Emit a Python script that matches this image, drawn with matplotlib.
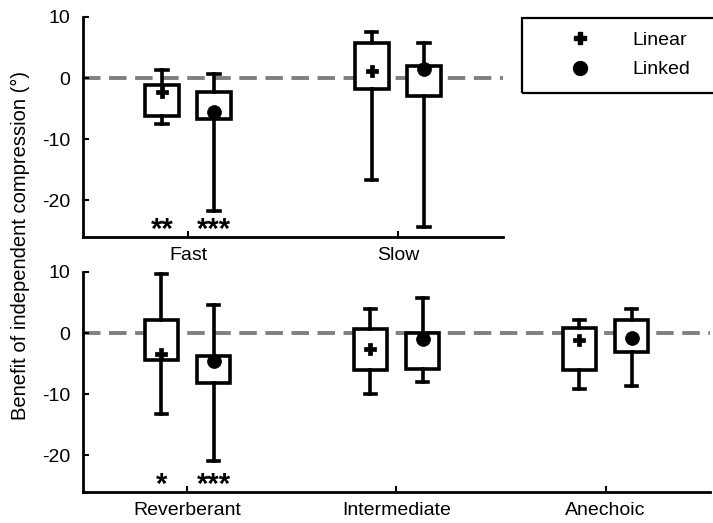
import matplotlib
matplotlib.use("Agg")
import matplotlib.pyplot as plt
from matplotlib.lines import Line2D
from matplotlib.patches import Rectangle

plt.rcParams['font.family'] = ['Liberation Sans', 'DejaVu Sans']

# data: [whisker low, q1, q3, whisker high, marker]
kat_atas = ["Fast", "Slow"]
lin_atas_lo = [-7.5, -16.7]
lin_atas_q1 = [-6.2, -1.8]
lin_atas_q3 = [-1.1, 5.8]
lin_atas_hi = [1.4, 7.6]
lin_atas_m = [-2.3, 1.2]
lnk_atas_lo = [-21.8, -24.4]
lnk_atas_q1 = [-6.7, -3.0]
lnk_atas_q3 = [-2.3, 2.0]
lnk_atas_hi = [0.7, 5.8]
lnk_atas_m = [-5.6, 1.5]
bintang_atas = [["**", "***"], ["", ""]]

kat_bawah = ["Reverberant", "Intermediate", "Anechoic"]
lin_bawah_lo = [-13.3, -10.0, -9.1]
lin_bawah_q1 = [-4.4, -6.0, -6.0]
lin_bawah_q3 = [2.1, 0.6, 0.8]
lin_bawah_hi = [9.6, 3.9, 2.1]
lin_bawah_m = [-3.5, -2.6, -1.2]
lnk_bawah_lo = [-20.9, -8.0, -8.7]
lnk_bawah_q1 = [-8.1, -5.8, -3.1]
lnk_bawah_q3 = [-3.7, 0.0, 2.1]
lnk_bawah_hi = [4.6, 5.8, 4.0]
lnk_bawah_m = [-4.6, -1.0, -0.8]
bintang_bawah = [["*", "***"], ["", ""], ["", ""]]

geser = 0.125
lebar = 0.16
fs = 14


def buat_stats(lo, q1, q3, hi, m):
    hasil = []
    for i in range(len(lo)):
        hasil.append(dict(whislo=lo[i], q1=q1[i], med=m[i], q3=q3[i],
                          whishi=hi[i], fliers=[]))
    return hasil


def gambar_panel(ax, kat, lin, lnk, bintang):
    n = len(kat)
    pos = list(range(1, n + 1))
    ax.axhline(0, color='#808080', lw=2.8, ls=(0, (4.5, 2.2)), zorder=1)
    for data, dx, mk, ms in [(lin, -geser, 'P', 9), (lnk, geser, 'o', 10)]:
        p = [x + dx for x in pos]
        ax.bxp(buat_stats(*data), positions=p, widths=lebar,
               showfliers=False, patch_artist=True,
               boxprops=dict(facecolor='white', edgecolor='black', lw=2.6),
               whiskerprops=dict(color='black', lw=2.6),
               capprops=dict(color='black', lw=2.6),
               medianprops=dict(visible=False), capwidths=0.055,
               manage_ticks=False, zorder=2)
        ax.plot(p, data[4], ls='none', marker=mk, ms=ms, color='black',
                mec='black', mew=0.5, zorder=3, clip_on=False)
    for i in range(n):
        for j, dx in enumerate([-geser, geser]):
            if bintang[i][j]:
                ax.text(pos[i] + dx, -24.9, bintang[i][j], ha='center',
                        va='center', fontsize=21, fontweight='bold')
    ax.set_xlim(0.5, n + 0.5)
    ax.set_ylim(-26, 10)
    ax.set_xticks(pos)
    ax.set_xticklabels(kat, fontsize=fs)
    ax.set_yticks([10, 0, -10, -20])
    ax.set_yticklabels(["10", "0", "-10", "-20"], fontsize=fs)
    ax.tick_params(axis='x', direction='in', length=4, width=1.5, pad=7)
    ax.tick_params(axis='y', direction='in', length=4, width=1.5, pad=9)
    for s in ['top', 'right']:
        ax.spines[s].set_visible(False)
    for s in ['left', 'bottom']:
        ax.spines[s].set_linewidth(2)


fig = plt.figure(figsize=(7.13, 5.23), dpi=100)
ax1 = fig.add_axes([0.1164, 0.5468, 0.589, 0.4207])
ax2 = fig.add_axes([0.1164, 0.0593, 0.8794, 0.4207])

gambar_panel(ax1, kat_atas,
             (lin_atas_lo, lin_atas_q1, lin_atas_q3, lin_atas_hi, lin_atas_m),
             (lnk_atas_lo, lnk_atas_q1, lnk_atas_q3, lnk_atas_hi, lnk_atas_m),
             bintang_atas)
gambar_panel(ax2, kat_bawah,
             (lin_bawah_lo, lin_bawah_q1, lin_bawah_q3, lin_bawah_hi, lin_bawah_m),
             (lnk_bawah_lo, lnk_bawah_q1, lnk_bawah_q3, lnk_bawah_hi, lnk_bawah_m),
             bintang_bawah)

fig.text(0.029, 0.53, "Benefit of independent compression (°)", rotation=90,
         ha='center', va='center', fontsize=14.5)

# legenda, bingkainya terpotong di tepi kanan
kiri, bawah, tinggi = 522 / 713, 1 - 93 / 523, 75 / 523
h = [Line2D([], [], ls='none', marker='P', ms=9, color='black'),
     Line2D([], [], ls='none', marker='o', ms=10, color='black')]
leg = fig.legend(h, ["Linear", "Linked"], loc='upper left',
                 bbox_to_anchor=(kiri, bawah, 0.3, tinggi),
                 fontsize=fs, frameon=False, borderpad=0.7,
                 handlelength=4.6, handletextpad=0.4, labelspacing=0.6,
                 borderaxespad=0)
fig.add_artist(Rectangle((kiri, bawah), 0.4, tinggi, fill=False,
                         edgecolor='black', lw=1.6,
                         transform=fig.transFigure))

fig.savefig("out.png", dpi=100)
